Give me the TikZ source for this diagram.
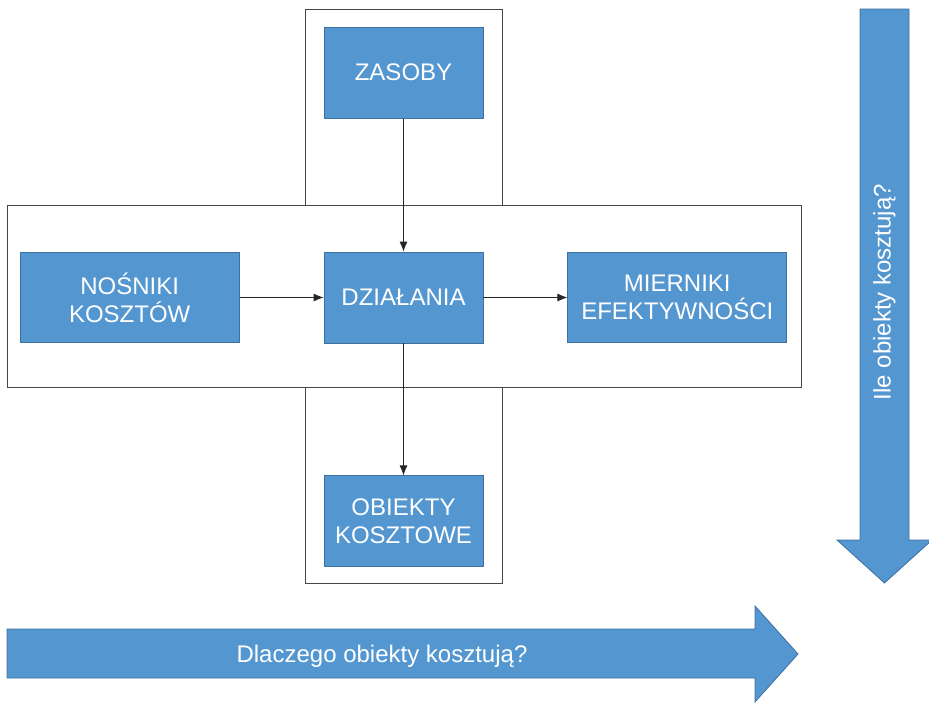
\documentclass[tikz,border=0pt]{standalone}
\usepackage{fontspec}
\setmainfont{Liberation Sans}
\usepackage{tikz}
\usetikzlibrary{arrows.meta}
\usetikzlibrary{positioning}

\definecolor{boxblue}{RGB}{83,150,208}
\definecolor{boxedge}{RGB}{62,112,160}
\definecolor{framegray}{RGB}{70,70,70}

\begin{document}
\begin{tikzpicture}
      [x=1pt,y=-1pt,
       block/.style={rectangle,fill=boxblue,draw=boxedge,line width=0.8pt,text=white,align=center,inner sep=0pt,font=\fontsize{24}{28}\selectfont},
       narrow/.style={block,minimum width=159pt,minimum height=91pt},
       wide/.style={block,minimum width=219pt,minimum height=90pt},
       frame/.style={draw=framegray,line width=0.9pt},
       flow/.style={-{Latex[length=10pt,width=8pt]},line width=0.9pt,black!85},
       bigarrow/.style={fill=boxblue,draw=boxedge,line width=0.8pt},
       arrowtext/.style={text=white,font=\fontsize{24}{28}\selectfont},
       node distance=84pt]
      \useasboundingbox (0,0) rectangle (929,702);
      % frames
      \draw[frame] (305,9) rectangle (502,205);
      \draw[frame] (7,205) rectangle (801,387);
      \draw[frame] (305,387) rectangle (502,583);
      % place nodes
      \node[narrow] (dzialania) at (403.5,297.5) {DZIAŁANIA};
      \node[narrow] (zasoby) [above=133pt of dzialania] {ZASOBY};
      \node[narrow] (obiekty) [below=132pt of dzialania] {OBIEKTY\\KOSZTOWE};
      \node[wide] (nosniki) [left=of dzialania] {NOŚNIKI\\KOSZTÓW};
      \node[wide] (mierniki) [right=of dzialania] {MIERNIKI\\EFEKTYWNOŚCI};
      % add edges
      \draw[flow] (zasoby) -- (dzialania);
      \draw[flow] (nosniki) -- (dzialania);
      \draw[flow] (dzialania) -- (mierniki);
      \draw[flow] (dzialania) -- (obiekty);
      % big arrows
      \filldraw[bigarrow] (7,629) -- (755,629) -- (755,606) -- (798,654) -- (755,702) -- (755,678) -- (7,678) -- cycle;
      \node[arrowtext] (dlaczego) at (382,656) {Dlaczego obiekty kosztują?};
      \filldraw[bigarrow] (860,9) -- (909,9) -- (909,540) -- (932,540) -- (884.5,583) -- (837,540) -- (860,540) -- cycle;
      \node[arrowtext,rotate=90] (ile) at (884.5,292) {Ile obiekty kosztują?};
    \end{tikzpicture}
\end{document}
